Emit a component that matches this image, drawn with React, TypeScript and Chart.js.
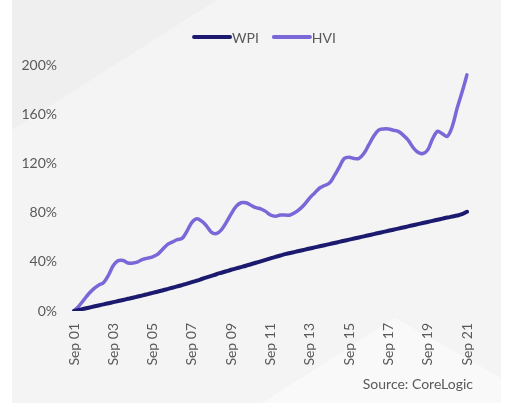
import React, { useEffect, useRef } from "react";
import { Chart, registerables } from "chart.js";

Chart.register(...registerables);

const MONTHS = ["Sep", "Dec", "Mar", "Jun"];
const FIRST_YEAR = 2001;
const LAST_YEAR = 2021;

const WPI = [
  0, 0.9, 1.8, 2.7, 3.6, 4.5, 5.4, 6.3, 7.2, 8.1,
  9.0, 9.9, 10.8, 11.8, 12.7, 13.7, 14.7, 15.7, 16.7, 17.8,
  18.9, 20.0, 21.1, 22.3, 23.5, 24.7, 26.0, 27.3, 28.6, 29.9,
  31.1, 32.3, 33.5, 34.6, 35.7, 36.8, 38.0, 39.2, 40.4, 41.6,
  42.8, 44.0, 45.1, 46.2, 47.2, 48.1, 49.0, 49.9, 50.8, 51.7,
  52.6, 53.5, 54.4, 55.3, 56.2, 57.1, 58.0, 58.9, 59.8, 60.7,
  61.6, 62.5, 63.4, 64.3, 65.2, 66.1, 67.0, 67.9, 68.8, 69.7,
  70.6, 71.5, 72.4, 73.3, 74.2, 75.1, 76.0, 76.8, 77.6, 78.7,
  80.7,
];

const HVI = [
  0, 4, 9, 14, 18, 21, 23, 29, 37, 41,
  41, 39, 39, 40, 42, 43, 44, 46, 50, 54,
  56, 58, 59, 65, 72, 75, 73, 69, 64, 63,
  66, 72, 79, 85, 88, 88, 86, 84, 83, 81,
  78, 77, 78, 78, 78, 80, 83, 87, 92, 96,
  100, 102, 104, 110, 117, 124, 125, 124, 124, 128,
  135, 142, 147, 148, 148, 147, 146, 143, 139, 133,
  129, 128, 131, 140, 146, 144, 142, 150, 165, 178,
  192,
];

const Y_TICKS = [0, 40, 80, 120, 160, 200];

const SERIES_NAMES = ["WPI", "HVI"];
const SERIES_COLORS = ["#1c1a6e", "#7b68d8"];
const TEXT_COLOR = "#595959";
const FONT_FAMILY = "Lato, 'Open Sans', sans-serif";

function buildLabels(): string[] {
  const out: string[] = [];
  for (let y = FIRST_YEAR; y <= LAST_YEAR; y++) {
    for (let m = 0; m < MONTHS.length; m++) {
      const year = m === 0 || m === 1 ? y : y + 1;
      out.push(`${MONTHS[m]} ${String(year % 100).padStart(2, "0")}`);
    }
  }
  return out.slice(0, WPI.length);
}

const legendPlugin = {
  id: "customLegend",
  afterDraw(chart: any) {
    const ctx = chart.ctx;
    ctx.save();
    ctx.font = `14px ${FONT_FAMILY}`;
    ctx.textBaseline = "middle";
    const lineW = 39;
    const gapText = 1;
    const gapItem = 13;
    const widths = SERIES_NAMES.map((n) => ctx.measureText(n).width);
    const total =
      widths.reduce((a, w) => a + lineW + gapText + w, 0) + gapItem * (SERIES_NAMES.length - 1);
    let x = 264 - total / 2;
    const y = 37;
    SERIES_NAMES.forEach((name, i) => {
      ctx.strokeStyle = SERIES_COLORS[i];
      ctx.lineWidth = 4;
      ctx.lineCap = "round";
      ctx.beginPath();
      ctx.moveTo(x + 2, y);
      ctx.lineTo(x + lineW - 1, y);
      ctx.stroke();
      ctx.fillStyle = TEXT_COLOR;
      ctx.fillText(name, x + lineW + gapText, y + 1);
      x += lineW + gapText + widths[i] + gapItem;
    });
    ctx.restore();
  },
};

export default function App() {
  const canvasRef = useRef<HTMLCanvasElement | null>(null);

  useEffect(() => {
    if (!canvasRef.current) return;
    const labels = buildLabels();
    const chart = new Chart(canvasRef.current, {
      type: "line",
      data: {
        labels,
        datasets: [
          {
            label: SERIES_NAMES[0],
            data: WPI,
            borderColor: SERIES_COLORS[0],
            backgroundColor: SERIES_COLORS[0],
            borderWidth: 4,
            pointRadius: 0,
            tension: 0.3,
            borderCapStyle: "round",
            borderJoinStyle: "round",
          },
          {
            label: SERIES_NAMES[1],
            data: HVI,
            borderColor: SERIES_COLORS[1],
            backgroundColor: SERIES_COLORS[1],
            borderWidth: 3.5,
            pointRadius: 0,
            tension: 0.35,
            borderCapStyle: "round",
            borderJoinStyle: "round",
          },
        ],
      },
      options: {
        animation: false,
        responsive: false,
        devicePixelRatio: 1,
        layout: { padding: { top: 65, right: 44, left: 0, bottom: 0 } },
        plugins: {
          legend: { display: false },
          tooltip: { enabled: false },
        },
        scales: {
          x: {
            type: "category",
            offset: false,
            grid: { display: false, drawTicks: false },
            border: { display: false },
            ticks: {
              autoSkip: false,
              maxRotation: 90,
              minRotation: 90,
              padding: 12,
              color: TEXT_COLOR,
              font: { family: FONT_FAMILY, size: 14 },
              callback: (_v: any, i: number) => (i % 8 === 0 ? labels[i] : ""),
            },
            afterFit: (scale: any) => {
              scale.height = 96;
            },
          },
          y: {
            min: 0,
            max: 200,
            grid: { display: false, drawTicks: false },
            border: { display: false },
            afterBuildTicks: (scale: any) => {
              scale.ticks = Y_TICKS.map((v) => ({ value: v }));
            },
            ticks: {
              padding: 17,
              color: TEXT_COLOR,
              font: { family: FONT_FAMILY, size: 14 },
              callback: (v: any) => `${v}%`,
            },
            afterFit: (scale: any) => {
              scale.width = 74;
            },
          },
        },
      },
      plugins: [legendPlugin],
    } as any);
    return () => chart.destroy();
  }, []);

  return (
    <div
      style={{
        position: "fixed",
        left: 0,
        top: 0,
        width: 511,
        height: 407,
        background: "#ffffff",
        overflow: "hidden",
        fontFamily: FONT_FAMILY,
      }}
    >
      <div
        style={{
          position: "absolute",
          left: 12,
          top: 0,
          width: 489,
          height: 403,
          background: "#f4f4f4",
          overflow: "hidden",
        }}
      >
        <div
          style={{
            position: "absolute",
            left: 0,
            top: 0,
            width: 489,
            height: 403,
            background: "#efefef",
            clipPath: "polygon(0 0, 205px 0, 0 130px)",
          }}
        />
        <div
          style={{
            position: "absolute",
            left: 0,
            top: 0,
            width: 489,
            height: 403,
            background: "#f9f9f9",
            clipPath: "polygon(250px 403px, 383px 318px, 489px 378px, 489px 403px)",
          }}
        />
      </div>
      <canvas
        ref={canvasRef}
        width={511}
        height={407}
        style={{ position: "absolute", left: 0, top: 0, width: 511, height: 407 }}
      />
      <div
        style={{
          position: "absolute",
          right: 38,
          top: 376,
          fontSize: 14,
          lineHeight: "16px",
          color: TEXT_COLOR,
          whiteSpace: "nowrap",
        }}
      >
        Source: CoreLogic
      </div>
    </div>
  );
}
